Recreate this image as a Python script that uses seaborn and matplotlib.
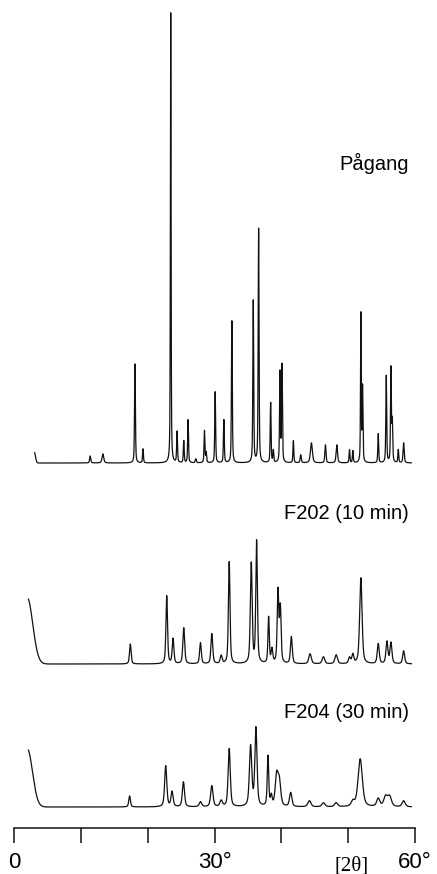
import numpy as np
import pandas as pd
import matplotlib
matplotlib.use("Agg")
import matplotlib.pyplot as plt
import seaborn as sns

# --- peak lists (2theta [deg], height, FWHM [deg]) ---
pagang_pos = [11.4, 13.3, 18.1, 19.3, 23.45, 24.4, 25.4, 26.05, 27.2, 28.5, 28.75,
              30.1, 31.4, 32.6, 35.8, 36.6, 38.4, 38.8, 39.8, 40.1, 41.8, 42.9,
              44.5, 46.6, 48.3, 50.2, 50.7, 51.9, 52.15, 54.5, 55.7, 56.4, 56.6,
              57.5, 58.3]
pagang_int = [7, 9, 99, 14, 450, 31, 22, 43, 4, 32, 10,
              71, 43, 142, 162, 234, 60, 12, 90, 97, 22, 8,
              20, 18, 18, 13, 12, 148, 75, 29, 87, 94, 40,
              13, 20]
pagang_fwhm = [0.2, 0.3, 0.15, 0.15, 0.12, 0.15, 0.15, 0.15, 0.2, 0.15, 0.15,
               0.15, 0.15, 0.15, 0.15, 0.15, 0.15, 0.15, 0.15, 0.15, 0.15, 0.2,
               0.35, 0.2, 0.25, 0.15, 0.15, 0.12, 0.15, 0.15, 0.15, 0.15, 0.15,
               0.15, 0.2]

f202_pos = [17.4, 22.85, 23.8, 25.4, 27.9, 29.6, 31.0, 32.2, 35.5, 36.3, 38.1,
            38.6, 39.5, 39.85, 41.5, 44.3, 46.3, 48.2, 50.2, 50.7, 51.9, 54.5,
            55.8, 56.4, 58.3]
f202_int = [20, 68, 25, 36, 21, 30, 8, 102, 100, 122, 46,
            14, 72, 55, 27, 10, 7, 9, 6, 9, 86, 20,
            22, 21, 13]
f202_fwhm = [0.28, 0.28, 0.3, 0.32, 0.3, 0.32, 0.35, 0.28, 0.32, 0.28, 0.24,
             0.3, 0.28, 0.28, 0.32, 0.45, 0.45, 0.45, 0.35, 0.35, 0.42, 0.35,
             0.35, 0.35, 0.35]

f204_pos = [17.3, 22.7, 23.65, 25.35, 27.9, 29.6, 31.0, 32.2, 35.4, 36.2, 38.0,
            38.5, 39.3, 39.7, 41.4, 44.2, 46.3, 48.2, 50.7, 51.8, 54.5, 55.6,
            56.2, 58.3]
f204_int = [11, 41, 15, 25, 5, 21, 6, 58, 60, 78, 50,
            10, 30, 24, 14, 6, 4, 4, 5, 48, 8, 10,
            10, 6]
f204_fwhm = [0.3, 0.38, 0.38, 0.38, 0.45, 0.42, 0.45, 0.38, 0.42, 0.38, 0.26,
             0.3, 0.5, 0.5, 0.42, 0.55, 0.55, 0.55, 0.55, 0.75, 0.55, 0.65,
             0.65, 0.55]

# low-angle scatter (height, gaussian FWHM) and scan ranges
pagang_low = (12, 0.45)
f202_low = (66, 1.9)
f204_low = (58, 1.8)
pagang_range = (3.1, 59.5)
f202_range = (2.14, 59.5)
f204_range = (2.14, 59.5)

names = ["Pågang", "F202 (10 min)", "F204 (30 min)"]


def pattern(rng, pos, hts, fw, low, low_center, eta=0.5):
    x = np.round(np.arange(rng[0], rng[1], 0.01), 2)
    y = np.zeros_like(x)
    for p, h, w in zip(pos, hts, fw):
        d = (x - p) / w
        y += h * (eta / (1 + 4 * d ** 2) + (1 - eta) * np.exp(-4 * np.log(2) * d ** 2))
    y += low[0] * np.exp(-4 * np.log(2) * ((x - low_center) / low[1]) ** 2)
    return x, y


# vertical stacking offsets (layout only)
offsets = [365, 164, 21]
centers = [3.0, 2.0, 2.0]

traces = [
    pattern(pagang_range, pagang_pos, pagang_int, pagang_fwhm, pagang_low, centers[0]),
    pattern(f202_range, f202_pos, f202_int, f202_fwhm, f202_low, centers[1]),
    pattern(f204_range, f204_pos, f204_int, f204_fwhm, f204_low, centers[2]),
]

sns.set_style("white")
plt.rcParams["font.family"] = ["Liberation Sans", "DejaVu Sans"]
plt.rcParams["text.color"] = "black"

fig = plt.figure(figsize=(4.37, 8.74), dpi=100)
ax = fig.add_axes([14 / 437, 46 / 874, 401 / 437, 828 / 874])

for (x, y), off in zip(traces, offsets):
    df = pd.DataFrame({"two_theta": x, "intensity": y + off})
    sns.lineplot(data=df, x="two_theta", y="intensity", ax=ax, color="#111111",
                 linewidth=0.9, estimator=None, sort=False)

ax.set_xlim(0, 60)
ax.set_ylim(0, 828)
for s in ["left", "right", "top"]:
    ax.spines[s].set_visible(False)
ax.spines["bottom"].set_linewidth(1.1)
ax.spines["bottom"].set_color("#111111")
ax.set_yticks([])
ax.set_xticks(np.arange(0, 61, 10))
ax.set_xticklabels(["0", "", "", "30°", "", "", "60°"], fontsize=16)
ax.tick_params(axis="x", bottom=True, direction="out", length=10.5, width=1.1,
               pad=7, color="#111111", labelcolor="black")
ax.set_xlabel("")
ax.set_ylabel("")

label_y = [658, 309, 110]
for name, ly in zip(names, label_y):
    ax.text(59.1, ly, name, ha="right", va="baseline", fontsize=14.5, color="black")

fig.text(352 / 437, 1 - 866 / 874, "[2θ]", ha="center", va="center", color="black",
         fontsize=15, family=["Liberation Serif", "DejaVu Serif"])

fig.savefig("out.png", dpi=100)
